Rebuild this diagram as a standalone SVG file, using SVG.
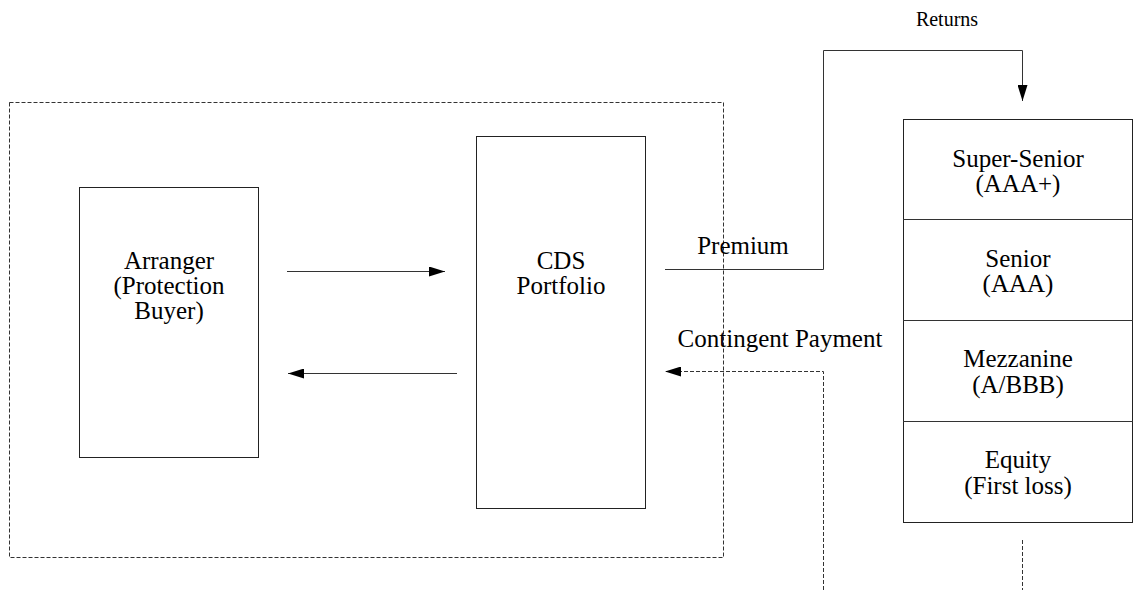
<svg xmlns="http://www.w3.org/2000/svg" width="1133" height="590" viewBox="0 0 1133 590">
<style>
.box{fill:#fff;stroke:#222;stroke-width:1}
.dash{fill:none;stroke:#333;stroke-width:1;stroke-dasharray:4,2}
.ln{fill:none;stroke:#333;stroke-width:1}
text{font-family:"Liberation Serif","Times New Roman",serif;font-size:25px;fill:#000;text-anchor:middle}
</style>
<defs>
<marker id="ah" markerWidth="16" markerHeight="10" refX="16" refY="5" orient="auto" markerUnits="userSpaceOnUse">
<path d="M0,0 L16,5 L0,10 Z" fill="#000"/>
</marker>
</defs>
<rect width="1133" height="590" fill="#fff"/>
<g id="boundary"><rect class="dash" x="9.5" y="102.5" width="714" height="455"/></g>
<g id="arranger"><rect class="box" x="79.5" y="187.5" width="179" height="270"/>
<text x="169" y="269">Arranger</text><text x="169" y="294">(Protection</text><text x="169" y="319">Buyer)</text></g>
<g id="cds"><rect class="box" x="476.5" y="136.5" width="169" height="372"/>
<text x="561" y="269">CDS</text><text x="561" y="294">Portfolio</text></g>
<g id="tranches">
<rect class="box" x="903.5" y="119.5" width="229" height="403"/>
<line class="ln" x1="903" y1="219.5" x2="1133" y2="219.5"/>
<line class="ln" x1="903" y1="320.5" x2="1133" y2="320.5"/>
<line class="ln" x1="903" y1="421.5" x2="1133" y2="421.5"/>
<text x="1018" y="167">Super-Senior</text><text x="1018" y="192">(AAA+)</text>
<text x="1018" y="267">Senior</text><text x="1018" y="292">(AAA)</text>
<text x="1018" y="367">Mezzanine</text><text x="1018" y="393">(A/BBB)</text>
<text x="1018" y="468">Equity</text><text x="1018" y="494">(First loss)</text>
</g>
<g id="connectors">
<line class="ln" x1="287" y1="271.5" x2="445" y2="271.5" marker-end="url(#ah)"/>
<line class="ln" x1="457" y1="373.5" x2="288" y2="373.5" marker-end="url(#ah)"/>
<polyline class="ln" points="665,269.5 823.5,269.5 823.5,50.5 1022.5,50.5 1022.5,101" marker-end="url(#ah)"/>
<polyline class="dash" points="823.5,590 823.5,371.5 665,371.5" marker-end="url(#ah)"/>
<line class="dash" x1="1022.5" y1="540" x2="1022.5" y2="590"/>
<text x="947" y="26" style="font-size:20px">Returns</text>
<text x="743" y="254">Premium</text>
<text x="780" y="347">Contingent Payment</text>
</g>
</svg>
